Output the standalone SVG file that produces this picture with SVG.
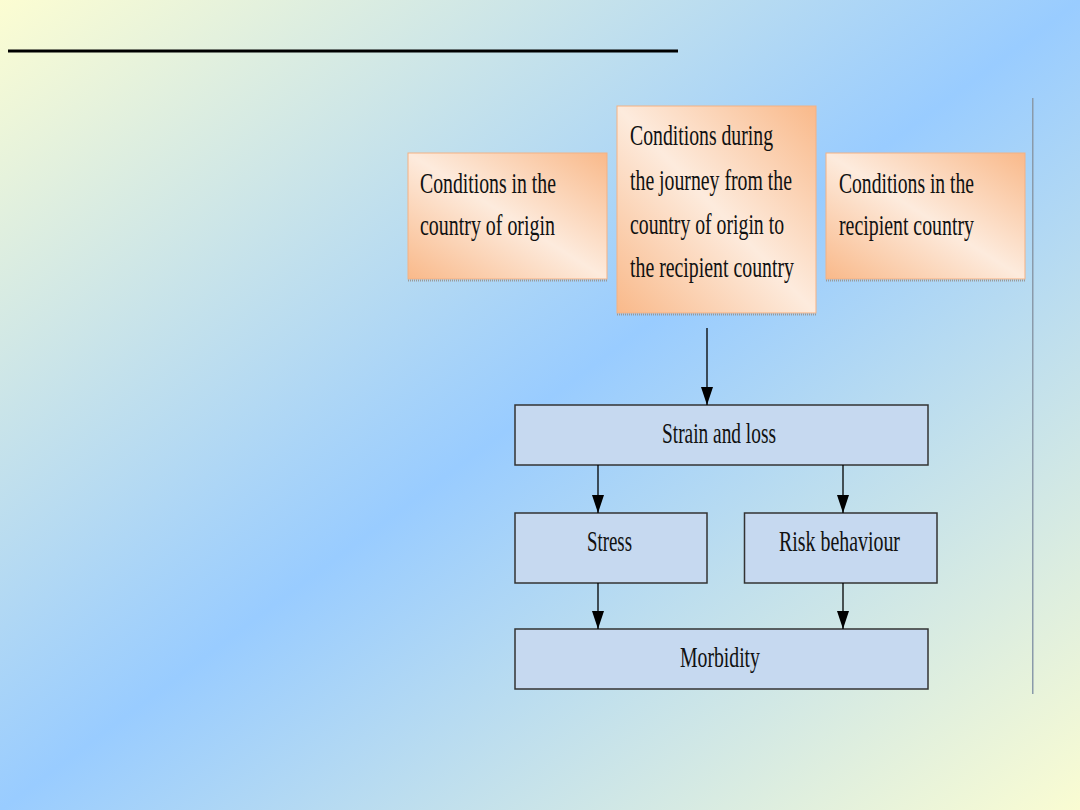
<svg xmlns="http://www.w3.org/2000/svg" width="1080" height="810" viewBox="0 0 1080 810">
<defs>
<linearGradient id="bg" x1="0" y1="0" x2="1" y2="1">
<stop offset="0" stop-color="#FCFDD2"/>
<stop offset="0.5" stop-color="#99CCFF"/>
<stop offset="1" stop-color="#FAFCD2"/>
</linearGradient>
<linearGradient id="peach" x1="1" y1="0" x2="0" y2="1">
<stop offset="0" stop-color="#F9B98A"/>
<stop offset="0.5" stop-color="#FDEBDD"/>
<stop offset="1" stop-color="#F9B98A"/>
</linearGradient>
<marker id="arr" viewBox="0 0 18 12" refX="18" refY="6" markerWidth="18" markerHeight="12" markerUnits="userSpaceOnUse" orient="auto">
<path d="M0,0 L18,6 L0,12 Z" fill="#000"/>
</marker>
<style>
.org{fill:url(#peach);stroke:#F4B183;stroke-width:1}
.shadow{stroke:#999;stroke-width:2;stroke-dasharray:1 1;fill:none}
.blu{fill:#C6D9F0;stroke:#333;stroke-width:1.5}
.t{font-family:"Liberation Serif","Times New Roman",serif;font-size:29px;fill:#111}
.con{stroke:#000;stroke-width:1.3;fill:none}
</style>
</defs>
<rect x="0" y="0" width="1080" height="810" fill="url(#bg)"/>
<rect x="8" y="49.5" width="670" height="3" fill="#000"/>
<rect x="1032" y="98" width="1.5" height="596" fill="#8A9AAA"/>

<g id="node-origin">
<rect class="org" x="408" y="153" width="199" height="126"/>
<line class="shadow" x1="408" y1="280.5" x2="607" y2="280.5"/>
<text class="t" transform="translate(420,193) scale(0.68,1)" textLength="200" lengthAdjust="spacingAndGlyphs">Conditions in the</text>
<text class="t" transform="translate(420,235) scale(0.68,1)" textLength="198.5" lengthAdjust="spacingAndGlyphs">country of origin</text>
</g>

<g id="node-journey">
<rect class="org" x="617" y="106" width="199" height="207"/>
<line class="shadow" x1="617" y1="314.5" x2="816" y2="314.5"/>
<text class="t" transform="translate(630,145) scale(0.68,1)" textLength="210.3" lengthAdjust="spacingAndGlyphs">Conditions during</text>
<text class="t" transform="translate(630,190) scale(0.68,1)" textLength="238.2" lengthAdjust="spacingAndGlyphs">the journey from the</text>
<text class="t" transform="translate(630,234) scale(0.68,1)" textLength="226.5" lengthAdjust="spacingAndGlyphs">country of origin to</text>
<text class="t" transform="translate(630,277) scale(0.68,1)" textLength="241.2" lengthAdjust="spacingAndGlyphs">the recipient country</text>
</g>

<g id="node-recipient">
<rect class="org" x="826" y="153" width="199" height="126"/>
<line class="shadow" x1="826" y1="280.5" x2="1025" y2="280.5"/>
<text class="t" transform="translate(839,193) scale(0.68,1)" textLength="198.5" lengthAdjust="spacingAndGlyphs">Conditions in the</text>
<text class="t" transform="translate(839,235) scale(0.68,1)" textLength="198.5" lengthAdjust="spacingAndGlyphs">recipient country</text>
</g>

<g id="node-strain">
<rect class="blu" x="515" y="405" width="413" height="60"/>
<text class="t" transform="translate(662,443) scale(0.68,1)" textLength="167.6" lengthAdjust="spacingAndGlyphs">Strain and loss</text>
</g>

<g id="node-stress">
<rect class="blu" x="515" y="513" width="192" height="70"/>
<text class="t" transform="translate(587,551) scale(0.68,1)" textLength="66.2" lengthAdjust="spacingAndGlyphs">Stress</text>
</g>

<g id="node-risk">
<rect class="blu" x="744.5" y="513" width="192.5" height="70"/>
<text class="t" transform="translate(779,551) scale(0.68,1)" textLength="177.9" lengthAdjust="spacingAndGlyphs">Risk behaviour</text>
</g>

<g id="node-morbidity">
<rect class="blu" x="515" y="629" width="413" height="60"/>
<text class="t" transform="translate(680,667) scale(0.68,1)" textLength="117.6" lengthAdjust="spacingAndGlyphs">Morbidity</text>
</g>

<g id="connectors">
<line class="con" x1="707" y1="328" x2="707" y2="405" marker-end="url(#arr)"/>
<line class="con" x1="598" y1="465" x2="598" y2="513" marker-end="url(#arr)"/>
<line class="con" x1="843" y1="465" x2="843" y2="513" marker-end="url(#arr)"/>
<line class="con" x1="598" y1="583" x2="598" y2="629" marker-end="url(#arr)"/>
<line class="con" x1="843" y1="583" x2="843" y2="629" marker-end="url(#arr)"/>
</g>
</svg>
